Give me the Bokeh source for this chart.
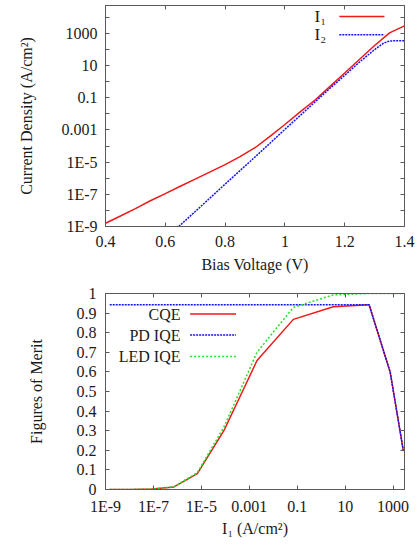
from bokeh.plotting import figure
from bokeh.models import (LogAxis, LinearAxis, FixedTicker, CustomJSTickFormatter,
                          Range1d, Label, Arrow)
from bokeh.layouts import column
from bokeh.embed import file_html
from bokeh.resources import INLINE

# ---------------- top panel data ----------------
bias_v_i1 = [0.40, 0.45, 0.50, 0.55, 0.60, 0.65, 0.70, 0.75, 0.80, 0.85, 0.90,
             0.95, 1.00, 1.05, 1.10, 1.15, 1.20, 1.25, 1.30, 1.35, 1.40]
i1_density = [1.6e-9, 4.5e-9, 1.3e-8, 4.0e-8, 1.1e-7, 3.2e-7, 8.9e-7, 2.5e-6, 7.1e-6,
              2.2e-5, 7.9e-5, 4.0e-4, 2.2e-3, 1.3e-2, 7.1e-2, 0.50, 3.5, 25, 180,
              1100, 3000]
bias_v_i2 = [0.645, 0.70, 0.75, 0.80, 0.85, 0.90, 0.95, 1.00, 1.05, 1.10, 1.15,
             1.20, 1.25, 1.30, 1.33, 1.35, 1.37, 1.40]
i2_density = [1.0e-9, 8.5e-9, 6.0e-8, 4.3e-7, 3.0e-6, 2.1e-5, 1.5e-4, 1.1e-3, 7.6e-3,
              5.4e-2, 0.38, 2.5, 17, 100, 250, 340, 355, 355]

top_x_ticks = [0.4, 0.6, 0.8, 1.0, 1.2, 1.4]
top_x_labels = ["0.4", "0.6", "0.8", "1", "1.2", "1.4"]
top_y_ticks = [1e-9, 1e-7, 1e-5, 1e-3, 1e-1, 1e1, 1e3]
top_y_labels = ["1E-9", "1E-7", "1E-5", "0.001", "0.1", "10", "1000"]
top_y_minor = [1e-8, 1e-6, 1e-4, 1e-2, 1.0, 1e2, 1e4]

# ---------------- bottom panel data ----------------
i1_points = [1.5e-9, 1.2e-8, 9e-8, 7.2e-7, 6.8e-6, 8.7e-5, 2.1e-3, 6.9e-2, 3.2, 100, 760, 2700]
cqe = [0.0, 0.0005, 0.002, 0.013, 0.081, 0.30, 0.658, 0.868, 0.932, 0.943, 0.598, 0.196]
pd_iqe = [0.943, 0.943, 0.943, 0.943, 0.943, 0.943, 0.943, 0.943, 0.943, 0.943, 0.598, 0.196]
led_iqe = [0.0, 0.0005, 0.002, 0.014, 0.086, 0.318, 0.70, 0.929, 0.993, 1.0, 1.0, 1.0]

bot_x_ticks = [1e-9, 1e-7, 1e-5, 1e-3, 1e-1, 1e1, 1e3]
bot_x_labels = ["1E-9", "1E-7", "1E-5", "0.001", "0.1", "10", "1000"]
bot_y_ticks = [0.0, 0.1, 0.2, 0.3, 0.4, 0.5, 0.6, 0.7, 0.8, 0.9, 1.0]
bot_y_labels = ["0", "0.1", "0.2", "0.3", "0.4", "0.5", "0.6", "0.7", "0.8", "0.9", "1"]

FONT = "Liberation Serif"
FS = "16px"
TXT = "#1a1a1a"
FRAME = "#5a5a5a"
RED = "#f01818"
BLUE = "#1414f0"
GREEN = "#22e022"

FMT_CODE = """
let best = -1, bd = 1e9;
for (let i = 0; i < tv.length; i++) {
  const d = islog ? Math.abs(Math.log10(tv[i]) - Math.log10(tick)) : Math.abs(tv[i] - tick);
  if (d < bd) { bd = d; best = i; }
}
return bd < 1e-6 ? tl[best] : "";
"""


def fmt(tv, tl, islog):
    return CustomJSTickFormatter(args=dict(tv=tv, tl=tl, islog=islog), code=FMT_CODE)


def empty_fmt():
    return CustomJSTickFormatter(code="return '';")


def style_axis(ax, standoff=8):
    ax.axis_line_color = FRAME
    ax.major_tick_line_color = FRAME
    ax.minor_tick_line_color = FRAME
    ax.major_tick_in = 4
    ax.major_tick_out = 0
    ax.minor_tick_in = 4
    ax.minor_tick_out = 0
    ax.major_label_text_font = FONT
    ax.major_label_text_font_size = FS
    ax.major_label_text_color = TXT
    ax.major_label_standoff = standoff
    ax.axis_label_text_font = FONT
    ax.axis_label_text_font_size = FS
    ax.axis_label_text_color = TXT
    ax.axis_label_text_font_style = "normal"


def mirror_axis(ax):
    style_axis(ax, 0)
    ax.major_label_text_font_size = "0px"
    ax.axis_label = None


# ================= top figure =================
p1 = figure(width=420, height=280, x_range=Range1d(0.4, 1.4), y_range=Range1d(1e-9, 5.5e4),
            y_axis_type="log", output_backend="svg", toolbar_location=None,
            min_border_left=97, min_border_right=16, min_border_top=5, min_border_bottom=54)
p1.grid.visible = False
p1.outline_line_color = FRAME
p1.outline_line_width = 1

p1.line(bias_v_i1, i1_density, line_color=RED, line_width=1.5)
p1.line(bias_v_i2, i2_density, line_color=BLUE, line_width=1.5, line_dash="2 1")

xt1 = FixedTicker(ticks=top_x_ticks, minor_ticks=[])
yt1 = FixedTicker(ticks=top_y_ticks, minor_ticks=top_y_minor)

bx = p1.below[0]
bx.ticker = xt1
bx.formatter = fmt(top_x_ticks, top_x_labels, False)
bx.axis_label = "Bias Voltage (V)"
style_axis(bx, 9)
bx.axis_label_standoff = 6

ly = p1.left[0]
ly.ticker = yt1
ly.formatter = fmt(top_y_ticks, top_y_labels, True)
ly.axis_label = "Current Density (A/cm²)"
style_axis(ly, 8)
ly.axis_label_standoff = 24

ax_top = LinearAxis(ticker=xt1, formatter=empty_fmt())
mirror_axis(ax_top)
p1.add_layout(ax_top, "above")
ax_right = LogAxis(ticker=yt1, formatter=empty_fmt())
mirror_axis(ax_right)
p1.add_layout(ax_right, "right")

# legend (gnuplot style: label left, sample right)
LEG1_TX = 1.138
LEG1_X0, LEG1_X1 = 1.182, 1.333
LEG1_Y = [1.15e4, 8.3e2]
for txt, yy, col, dash in [("I₁", LEG1_Y[0], RED, "solid"),
                           ("I₂", LEG1_Y[1], BLUE, "2 1")]:
    p1.add_layout(Label(x=LEG1_TX, y=yy, text=txt, text_align="right", text_baseline="middle",
                        text_font=FONT, text_font_size="17px", text_color=TXT))
    p1.add_layout(Arrow(x_start=LEG1_X0, y_start=yy, x_end=LEG1_X1, y_end=yy, end=None,
                        line_color=col, line_width=1.5, line_dash=dash))

# ================= bottom figure =================
p2 = figure(width=420, height=266, x_range=Range1d(1e-9, 3000), y_range=Range1d(0, 1),
            x_axis_type="log", output_backend="svg", toolbar_location=None,
            min_border_left=105, min_border_right=7, min_border_top=13, min_border_bottom=57)
p2.grid.visible = False
p2.outline_line_color = FRAME
p2.outline_line_width = 1

p2.line(i1_points, cqe, line_color=RED, line_width=1.5)
p2.line(i1_points, pd_iqe, line_color=BLUE, line_width=1.5, line_dash="2 1")
p2.line(i1_points, led_iqe, line_color=GREEN, line_width=1.5, line_dash="2 2")

xt2 = FixedTicker(ticks=bot_x_ticks, minor_ticks=[])
yt2 = FixedTicker(ticks=bot_y_ticks, minor_ticks=[])

bx2 = p2.below[0]
bx2.ticker = xt2
bx2.formatter = fmt(bot_x_ticks, bot_x_labels, True)
bx2.axis_label = "I₁ (A/cm²)"
style_axis(bx2, 8)
bx2.axis_label_standoff = 2

ly2 = p2.left[0]
ly2.ticker = yt2
ly2.formatter = fmt(bot_y_ticks, bot_y_labels, False)
ly2.axis_label = "Figures of Merit"
style_axis(ly2, 9)
ly2.axis_label_standoff = 29

ax_top2 = LogAxis(ticker=xt2, formatter=empty_fmt())
mirror_axis(ax_top2)
p2.add_layout(ax_top2, "above")
ax_right2 = LinearAxis(ticker=yt2, formatter=empty_fmt())
mirror_axis(ax_right2)
p2.add_layout(ax_right2, "right")

LEG2_TX = 1.35e-6
LEG2_X0, LEG2_X1 = 3.4e-6, 2.8e-4
LEG2_Y = [0.895, 0.788, 0.678]
for txt, yy, col, dash in [("CQE", LEG2_Y[0], RED, "solid"),
                           ("PD IQE", LEG2_Y[1], BLUE, "2 1"),
                           ("LED IQE", LEG2_Y[2], GREEN, "2 2")]:
    p2.add_layout(Label(x=LEG2_TX, y=yy, text=txt, text_align="right", text_baseline="middle",
                        text_font=FONT, text_font_size=FS, text_color=TXT))
    p2.add_layout(Arrow(x_start=LEG2_X0, y_start=yy, x_end=LEG2_X1, y_end=yy, end=None,
                        line_color=col, line_width=1.5, line_dash=dash))

layout = column(p1, p2)
open("out.html", "w").write(file_html(layout, INLINE))
